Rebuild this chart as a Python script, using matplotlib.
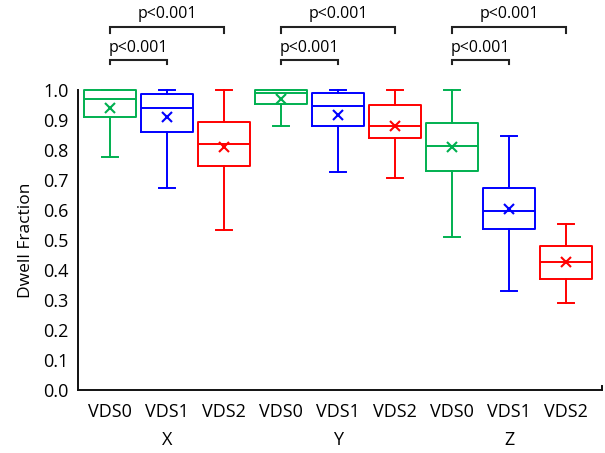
import matplotlib
matplotlib.use("Agg")
import matplotlib.pyplot as plt
import matplotlib.transforms as mtransforms

plt.rcParams['font.family'] = ['Open Sans', 'DejaVu Sans']

# ---- data ----
groups = ["X", "Y", "Z"]
conditions = ["VDS0", "VDS1", "VDS2"]
whislo = [0.777, 0.674, 0.535, 0.882, 0.726, 0.708, 0.509, 0.329, 0.290]
q1     = [0.909, 0.862, 0.747, 0.954, 0.881, 0.841, 0.731, 0.536, 0.369]
med    = [0.970, 0.942, 0.821, 0.992, 0.948, 0.881, 0.814, 0.597, 0.426]
q3     = [0.999, 0.987, 0.893, 1.000, 0.992, 0.951, 0.892, 0.674, 0.480]
whishi = [1.000, 1.000, 0.999, 1.000, 1.000, 1.000, 1.000, 0.848, 0.553]
means  = [0.939, 0.911, 0.810, 0.969, 0.916, 0.879, 0.811, 0.603, 0.428]
p_label = "p<0.001"

colors = ["#00B050", "#0000FF", "#FF0000"]

fig = plt.figure(figsize=(6.05, 4.53), dpi=100)
ax = fig.add_axes([0.129, 0.139, 0.866, 0.662])

n = len(med)
positions = list(range(1, n + 1))
stats = []
for i in range(n):
    stats.append(dict(whislo=whislo[i], q1=q1[i], med=med[i], q3=q3[i],
                      whishi=whishi[i], mean=means[i], fliers=[]))

for i in range(n):
    c = colors[i % 3]
    lw = 1.4
    bp = ax.bxp([stats[i]], positions=[positions[i]], widths=0.91,
                showmeans=True, meanline=False, showfliers=False,
                boxprops=dict(color=c, linewidth=lw),
                whiskerprops=dict(color=c, linewidth=lw),
                capprops=dict(color=c, linewidth=lw),
                medianprops=dict(color=c, linewidth=lw),
                meanprops=dict(marker='x', markeredgecolor=c, markerfacecolor=c,
                               markersize=7, markeredgewidth=1.5),
                capwidths=0.28, manage_ticks=False)
    for k in bp:
        for art in bp[k]:
            art.set_clip_on(False)

ax.set_xlim(0.44, 9.63)
ax.set_ylim(0, 1.0)
ax.set_yticks([i / 10 for i in range(11)])
ax.set_yticklabels([f"{i/10:.1f}" for i in range(11)])
ax.set_xticks(positions)
ax.set_xticklabels([conditions[i % 3] for i in range(n)])
ax.tick_params(axis='both', length=0, labelsize=13, colors='black')
ax.tick_params(axis='y', pad=7)
ax.tick_params(axis='x', pad=9)
for s in ['top', 'right']:
    ax.spines[s].set_visible(False)
for s in ['left', 'bottom']:
    ax.spines[s].set_linewidth(1.4)
    ax.spines[s].set_color('#111111')

# small end tick at right end of category axis
ax.plot([1, 1], [0, 0.012], transform=ax.transAxes, color='#111111', lw=1.4,
        clip_on=False)

ax.set_ylabel("Dwell Fraction", fontsize=12.5, labelpad=6)

trans = mtransforms.blended_transform_factory(ax.transData, fig.transFigure)
for g, name in enumerate(groups):
    ax.text(positions[g * 3 + 1], 1 - 440 / 453, name, transform=trans,
            ha='center', va='center', fontsize=13)

# significance brackets
for g in range(3):
    x0 = positions[g * 3]
    for j, (yb, yt, ytxt) in zip([1, 2], [(1.087, 1.10, 1.14), (1.19, 1.21, 1.253)]):
        x1 = positions[g * 3 + j]
        ax.plot([x0, x0, x1, x1], [yb, yt, yt, yb], color='#222222', lw=1.5,
                clip_on=False, solid_joinstyle='miter')
        ax.text((x0 + x1) / 2, ytxt, p_label, ha='center', va='center',
                fontsize=11.5, clip_on=False)

fig.savefig("out.png", dpi=100)
